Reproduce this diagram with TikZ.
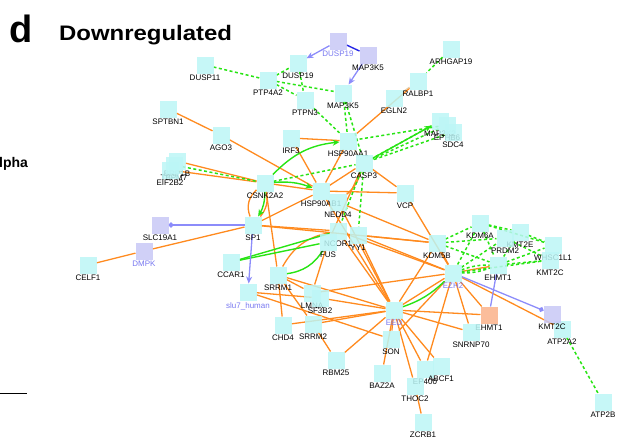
\documentclass[tikz,border=0pt]{standalone}
\usepackage{fontspec}
\setmainfont{Liberation Sans}
\usetikzlibrary{arrows.meta,backgrounds}
\definecolor{cy}{RGB}{188,246,246}
\definecolor{lav}{RGB}{200,200,246}
\definecolor{orsq}{RGB}{250,178,138}
\definecolor{oec}{RGB}{255,138,30}
\definecolor{gec}{RGB}{40,228,20}
\definecolor{bec}{RGB}{140,140,250}
\definecolor{dbec}{RGB}{40,40,230}
\definecolor{ltx}{RGB}{120,120,240}
\definecolor{tan}{RGB}{225,205,170}
\begin{document}
\begin{tikzpicture}[x=1pt,y=-1pt,
 sq/.style={fill=cy,fill opacity=0.85,minimum size=17pt,inner sep=0pt,outer sep=0pt},
 lsq/.style={sq,fill=lav},
 osq/.style={sq,fill=orsq},
 lb/.style={font=\fontsize{8}{9}\selectfont,inner sep=1.6pt,text opacity=1,fill opacity=1},
 llb/.style={lb,text=ltx},
 oline/.style={draw=oec,line width=1.3pt},
 tline/.style={draw=tan,line width=1pt},
 gline/.style={draw=gec,line width=1.4pt},
 garrow/.style={gline,-{Stealth[length=7pt,width=6pt]}},
 gdash/.style={draw=gec,line width=1.5pt,dash pattern=on 3pt off 2.5pt},
 bline/.style={draw=bec,line width=1.3pt},
 barrow/.style={bline,-{Stealth[length=7pt,width=6pt]}},
 bdot/.style={bline,-{Circle[length=5pt]}},
]
\useasboundingbox (0,0) rectangle (621,440);
% titles
\node[anchor=base west,inner sep=0pt,font=\fontsize{38}{38}\selectfont\bfseries] (ttl) at (9,42) {d};
\node[anchor=base west,inner sep=0pt,font=\fontsize{21}{21}\selectfont\bfseries] (sub) at (59,40) {\scalebox{1.14}[1]{Downregulated}};
\node[anchor=base west,inner sep=0pt,font=\fontsize{14}{14}\selectfont\bfseries] (alp) at (-1,167) {lpha};
\coordinate (ruleA) at (0,393);
\coordinate (ruleB) at (27,393);
\draw[line width=0.9pt] (ruleA) -- (ruleB);

% nodes
\node[sq,label={[lb]below:DUSP11}] (DUSP11) at (205,65) {};
\node[sq,label={[lb]below:DUSP19}] (DUSP19) at (298,63) {};
\node[lsq,label={[llb]below:DUSP19}] (DUSP19L) at (338,41) {};
\node[lsq,label={[lb]below:MAP3K5}] (MAP3K5L) at (368,55) {};
\node[sq,label={[lb]below:MAP3K5}] (MAP3K5) at (343,93) {};
\node[sq,label={[lb]below:PTP4A2}] (PTP4A2) at (268,80) {};
\node[sq,label={[lb]below:PTPN3}] (PTPN3) at (305,100) {};
\node[sq,label={[lb]below:ARHGAP19}] (ARHGAP19) at (451,49) {};
\node[sq,label={[lb]below:RALBP1}] (RALBP1) at (418,81) {};
\node[sq,label={[lb]below:EGLN2}] (EGLN2) at (394,98) {};
\node[sq,label={[lb]below:SPTBN1}] (SPTBN1) at (168,109) {};
\node[sq,label={[lb]below:AGO3}] (AGO3) at (221,135) {};
\node[sq,label={[lb]below:IRF3}] (IRF3) at (291,138) {};
\node[sq,label={[lb]below:HSP90AA1}] (HSP90AA1) at (348,141) {};
\node[sq,label={[lb]below:CASP3}] (CASP3) at (364,163) {};
\node[sq,label={[lb]below:MAP2K2}] (MAP2K2) at (440,121) {};
\node[sq,label={[lb]below:EPHB6}] (EPHB6) at (447,125) {};
\node[sq,label={[lb]below:SDC4}] (SDC4) at (453,132) {};
\node[sq,label={[lb]below:BRP1B}] (BRP1B) at (177,161) {};
\node[sq,label={[lb]below:TBPM7}] (TBPM7) at (174,165) {};
\node[sq,label={[lb]below:EIF2B2}] (EIF2B2) at (170,170) {};
\node[sq,label={[lb]below:CSNK2A2}] (CSNK2A2) at (265,183) {};
\node[sq,label={[lb]below:HSP90AB1}] (HSP90AB1) at (321,191) {};
\node[sq,label={[lb]below:NEDD4}] (NEDD4) at (338,202) {};
\node[sq,label={[lb]below:VCP}] (VCP) at (405,193) {};
\node[sq,label={[lb]below:SP1}] (SP1) at (253,225) {};
\node[lsq,label={[lb]below:SLC19A1}] (SLC19A1) at (160,225) {};
\node[lsq,label={[llb]below:DMPK}] (DMPK) at (144,251) {};
\node[sq,label={[lb]below:CELF1}] (CELF1) at (88,265) {};
\node[sq,label={[lb]below:CCAR1}] (CCAR1) at (231,262) {};
\node[sq,label={[lb]below:NCOR1}] (NCOR1) at (338,231) {};
\node[sq,label={[lb]below:FUS}] (FUS) at (328,242) {};
\node[sq,label={[lb]below:YY1}] (YY1) at (358,235) {};
\node[sq,label={[lb]below:SRRM1}] (SRRM1) at (278,275) {};
\node[sq,label={[llb]below:slu7\_human}] (SLU7) at (248,292) {};
\node[sq,label={[lb]below:LMNA}] (LMNA) at (312,293) {};
\node[sq,label={[lb]below:SF3B2}] (SF3B2) at (320,298) {};
\node[sq,label={[lb]below:CHD4}] (CHD4) at (283,325) {};
\node[sq,label={[lb]below:SRRM2}] (SRRM2) at (313,324) {};
\node[sq,label={[lb]below:RBM25}] (RBM25) at (336,360) {};
\node[sq,label={[llb]below:EED}] (EED) at (394,310) {};
\node[sq,label={[lb]below:SON}] (SON) at (391,339) {};
\node[sq,label={[lb]below:BAZ2A}] (BAZ2A) at (382,373) {};
\node[sq,label={[lb]below:EP400}] (EP400) at (425,369) {};
\node[sq,label={[lb]below:ABCF1}] (ABCF1) at (441,366) {};
\node[sq,label={[lb]below:THOC2}] (THOC2) at (415,386) {};
\node[sq,label={[lb]below:ZCRB1}] (ZCRB1) at (423,422) {};
\node[sq,label={[lb]below:KDM5B}] (KDM5B) at (437,243) {};
\node[sq,label={[lb]below:KDM6A}] (KDM6A) at (480,223) {};
\node[sq,label={[lb]below:KMT2E}] (KMT2E) at (520,232) {};
\node[sq,label={[lb]below:PRDM2}] (PRDM2) at (505,238) {};
\node[sq,label={[lb]below:WHSC1L1}] (WHSC1L1) at (553,245) {};
\node[sq,label={[lb]below:KMT2C}] (KMT2C) at (550,260) {};
\node[sq,label={[lb]below:EHMT1}] (EHMT1) at (498,265) {};
\node[sq,label={[llb]below:EZH2}] (EZH2) at (453,273) {};
\node[osq,label={[lb]below:EHMT1}] (EHMT1o) at (489,315) {};
\node[sq,label={[lb]below:SNRNP70}] (SNRNP70) at (471,332) {};
\node[sq,label={[lb]below:ATP2A2}] (ATP2A2) at (562,329) {};
\node[lsq,label={[lb]below:KMT2C}] (KMT2CL) at (552,314) {};
\node[sq,label={[lb]below:ATP2B}] (ATP2B) at (603,402) {};

\begin{scope}[on background layer]
% orange
\draw[oline] (SPTBN1) -- (AGO3);
\draw[oline] (AGO3) -- (HSP90AB1);
\draw[oline] (IRF3) -- (HSP90AA1);
\draw[oline] (IRF3) -- (HSP90AB1);
\draw[oline] (RALBP1) -- (HSP90AA1);
\draw[tline] (EGLN2) -- (RALBP1);
\draw[oline] (BRP1B) -- (CSNK2A2);
\draw[oline] (EIF2B2) -- (CSNK2A2);
\draw[oline] (CSNK2A2) -- (HSP90AB1);
\draw[oline] (CSNK2A2) to[bend right=35] (SP1);
\draw[oline] (CSNK2A2) to[bend left=25] (SP1);
\draw[oline] (CSNK2A2) -- (SRRM1);
\draw[oline] (HSP90AA1) -- (HSP90AB1);
\draw[tline] (HSP90AA1) -- (CASP3);
\draw[oline] (CASP3) -- (HSP90AB1);
\draw[oline] (CASP3) -- (VCP);
\draw[oline] (CASP3) to[bend left=15] (NEDD4);
\draw[oline] (CASP3) -- (FUS);
\draw[oline] (HSP90AB1) -- (VCP);
\draw[oline] (HSP90AB1) -- (SP1);
\draw[tline] (HSP90AB1) -- (NEDD4);
\draw[oline] (HSP90AB1) -- (EED);
\draw[oline] (VCP) -- (EZH2);
\draw[oline] (CELF1) -- (DMPK);
\draw[oline] (DMPK) -- (SP1);
\draw[oline] (SP1) -- (NCOR1);
\draw[oline] (SP1) -- (KDM5B);
\draw[oline] (SRRM1) to[bend left=25] (NCOR1);
\draw[oline] (SRRM1) -- (LMNA);
\draw[oline] (SRRM1) -- (CHD4);
\draw[oline] (SRRM1) -- (SRRM2);
\draw[oline] (SRRM1) -- (EED);
\draw[oline] (FUS) -- (LMNA);
\draw[oline] (SLU7) -- (SF3B2);
\draw[oline] (SLU7) -- (SON);
\draw[oline] (CHD4) -- (EED);
\draw[oline] (SRRM2) -- (EED);
\draw[oline] (SRRM2) -- (RBM25);
\draw[oline] (LMNA) -- (EZH2);
\draw[oline] (SF3B2) -- (EED);
\draw[oline] (NEDD4) -- (EED);
\draw[oline] (YY1) -- (EED);
\draw[oline] (NCOR1) -- (EED);
\draw[oline] (NCOR1) -- (EZH2);
\draw[oline] (YY1) -- (EZH2);
\draw[oline] (YY1) -- (KDM5B);
\draw[oline] (NEDD4) -- (KDM5B);
\draw[oline] (EED) -- (EZH2);
\draw[oline] (EED) -- (KDM5B);
\draw[oline] (EED) -- (SON);
\draw[oline] (EED) -- (BAZ2A);
\draw[oline] (EED) -- (THOC2);
\draw[oline] (EED) -- (EP400);
\draw[oline] (EED) -- (ABCF1);
\draw[oline] (EED) -- (SNRNP70);
\draw[oline] (EED) -- (EHMT1o);
\draw[oline] (EED) -- (RBM25);
\draw[oline] (THOC2) -- (ZCRB1);
\draw[oline] (EZH2) -- (KDM5B);
\draw[oline] (EZH2) -- (EHMT1o);
\draw[oline] (EZH2) -- (SNRNP70);
\draw[oline] (EZH2) -- (EP400);
\draw[oline] (EZH2) -- (ATP2A2);
\draw[oline] (EZH2) -- (SON);
\draw[oline] (EZH2) -- (EHMT1);
% green solid
\draw[garrow] (CSNK2A2) to[bend left=20] (HSP90AA1);
\draw[garrow] (CSNK2A2) to[bend left=12] (HSP90AB1);
\draw[garrow] (CSNK2A2) to[bend left=15] (SP1);
\draw[garrow] (CASP3) -- (MAP2K2);
\draw[gline] (CCAR1) -- (NCOR1);
\draw[gline] (CCAR1) -- (FUS);
\draw[gline] (SRRM1) to[bend right=25] (FUS);
\draw[gline] (EED) to[bend right=12] (EZH2);
% green dashed
\draw[gdash] (DUSP11) -- (PTP4A2);
\draw[gdash] (PTP4A2) -- (DUSP19);
\draw[gdash] (PTP4A2) -- (MAP3K5);
\draw[gdash] (PTP4A2) -- (PTPN3);
\draw[gdash] (DUSP19) -- (PTPN3);
\draw[gdash] (PTPN3) -- (HSP90AA1);
\draw[gdash] (MAP3K5) -- (HSP90AA1);
\draw[gdash] (MAP3K5) -- (CASP3);
\draw[gdash] (ARHGAP19) -- (RALBP1);
\draw[gdash] (MAP2K2) -- (CASP3);
\draw[gdash] (EPHB6) -- (CASP3);
\draw[gdash] (SDC4) -- (CASP3);
\draw[gdash] (EPHB6) -- (HSP90AA1);
\draw[gdash] (TBPM7) -- (CSNK2A2);
\draw[gdash] (CSNK2A2) -- (CASP3);
\draw[gdash] (CASP3) -- (NCOR1);
\draw[gdash] (CASP3) -- (YY1);
\draw[gdash] (KDM5B) -- (KDM6A);
\draw[gdash] (KDM5B) -- (PRDM2);
\draw[gdash] (KDM5B) -- (EHMT1);
\draw[gdash] (KDM6A) -- (KMT2E);
\draw[gdash] (KDM6A) -- (WHSC1L1);
\draw[gdash] (KDM6A) -- (EHMT1);
\draw[gdash] (KMT2E) -- (WHSC1L1);
\draw[gdash] (KMT2E) -- (EHMT1);
\draw[gdash] (EZH2) -- (KDM6A);
\draw[gdash] (EZH2) -- (PRDM2);
\draw[gdash] (EZH2) -- (KMT2C);
\draw[gdash] (EZH2) to[bend left=10] (EHMT1);
\draw[gdash] (EZH2) to[bend right=10] (EHMT1);
\draw[gdash] (EHMT1) -- (KMT2C);
\draw[gdash] (EHMT1) -- (WHSC1L1);
\draw[gdash] (PRDM2) -- (KMT2C);
\draw[gdash] (ATP2A2) -- (ATP2B);
% blue
\draw[barrow] (DUSP19L) -- (DUSP19);
\draw[barrow] (MAP3K5L) -- (MAP3K5);
\draw[draw=dbec,line width=1.4pt] (DUSP19L) -- (MAP3K5L);
\draw[barrow] (SP1) -- (SLU7);
\draw[bdot] (SP1) -- (SLC19A1);
\draw[bline] (EHMT1) -- (EHMT1o);
\draw[bdot] (EZH2) -- (KMT2CL);
\end{scope}
\end{tikzpicture}
\end{document}
